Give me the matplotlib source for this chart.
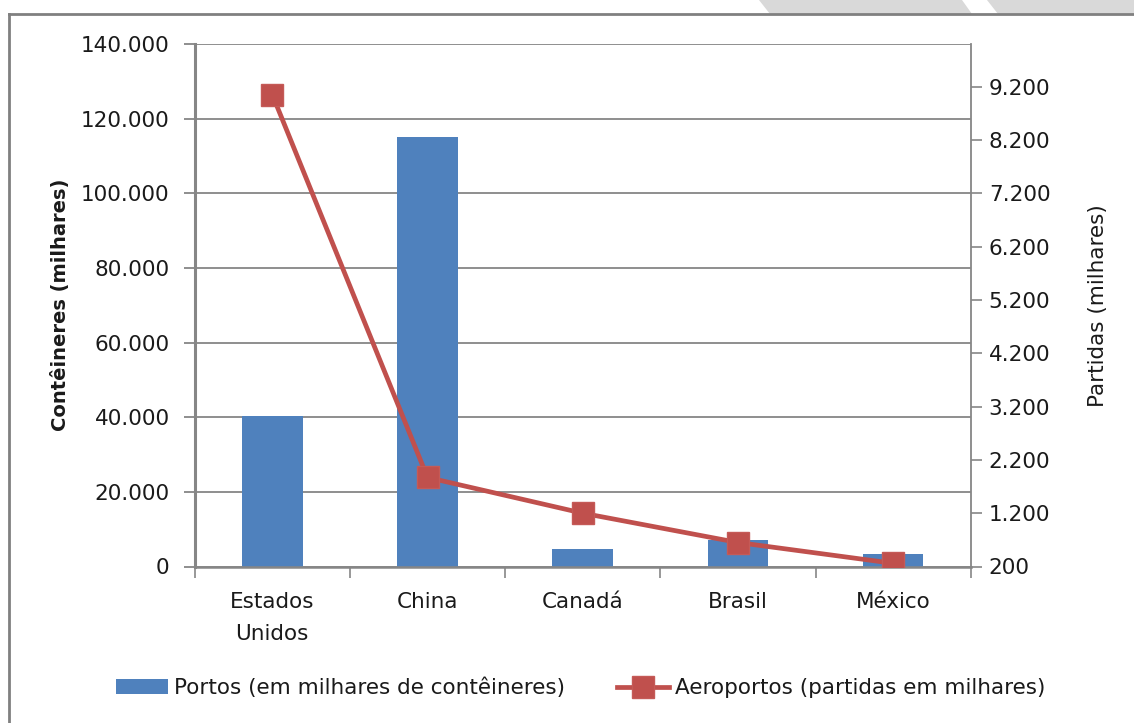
import matplotlib
matplotlib.use("Agg")
import matplotlib.pyplot as plt
from matplotlib.patches import Polygon, Patch
from matplotlib.lines import Line2D
from matplotlib.ticker import FixedLocator, FuncFormatter

plt.rcParams['font.family'] = ['DejaVu Sans']

# Dados
paises = ["Estados\nUnidos", "China", "Canadá", "Brasil", "México"]
portos = [40300, 115100, 4700, 7100, 3300]          # milhares de contêineres
aeroportos = [9050, 1870, 1200, 650, 260]           # partidas em milhares
ticks_esq = [0, 20000, 40000, 60000, 80000, 100000, 120000, 140000]
ticks_dir = [200, 1200, 2200, 3200, 4200, 5200, 6200, 7200, 8200, 9200]

AZUL = "#4F81BD"
VERMELHO = "#C0504D"
CINZA = "#868686"
TEXTO = "#1a1a1a"

W, H = 1134, 723
fig = plt.figure(figsize=(W / 100, H / 100), dpi=100)
fig.patch.set_facecolor("white")


def fx(px):
    return px / W


def fy(py):
    return 1 - py / H


def milhar(v, pos=None):
    return f"{int(v):,}".replace(",", ".")


# moldura e detalhe cinza no canto superior direito
fig.patches.append(Polygon([(fx(759), fy(0)), (fx(962), fy(0)), (fx(972), fy(14)), (fx(770), fy(14))],
                           closed=True, transform=fig.transFigure, facecolor="#d9d9d9",
                           edgecolor="none", zorder=0))
fig.patches.append(Polygon([(fx(987), fy(0)), (fx(W), fy(0)), (fx(W), fy(14)), (fx(998), fy(14))],
                           closed=True, transform=fig.transFigure, facecolor="#d9d9d9",
                           edgecolor="none", zorder=0))
fig.add_artist(Line2D([fx(9), fx(W)], [fy(14), fy(14)], transform=fig.transFigure,
                      color="#808080", lw=2))
fig.add_artist(Line2D([fx(9), fx(9)], [fy(14), fy(H)], transform=fig.transFigure,
                      color="#808080", lw=2))

left, right, top, bottom = 194.7, 970.7, 44, 566.5
ax = fig.add_axes([fx(left), fy(bottom), fx(right - left), (bottom - top) / H])
x = list(range(len(paises)))

ax.bar(x, portos, width=0.39, color=AZUL, zorder=2)
ax.set_xlim(-0.5, len(paises) - 0.5)
ax.set_ylim(0, 140000)
ax.yaxis.set_major_locator(FixedLocator(ticks_esq))
ax.yaxis.set_major_formatter(FuncFormatter(milhar))
ax.grid(axis="y", color=CINZA, lw=1.3, zorder=0)
ax.set_axisbelow(True)

ax.set_xticks(x)
ax.set_xticklabels(paises, fontsize=15.5, color=TEXTO, linespacing=1.75)
ax.xaxis.set_minor_locator(FixedLocator([i - 0.5 for i in range(len(paises) + 1)]))
ax.tick_params(axis="x", which="major", length=0, pad=18)
ax.tick_params(axis="x", which="minor", length=8, width=1.2, color=CINZA, direction="out")
ax.tick_params(axis="y", which="major", length=8, width=1.3, color=CINZA, labelsize=15.5,
               labelcolor=TEXTO, pad=10)

for s in ["top", "right"]:
    ax.spines[s].set_visible(False)
ax.spines["left"].set_color(CINZA)
ax.spines["left"].set_linewidth(2.2)
ax.spines["bottom"].set_color(CINZA)
ax.spines["bottom"].set_linewidth(1.8)

ax.set_ylabel("Contêineres (milhares)", fontsize=14, fontweight="bold", color=TEXTO, labelpad=8)

ax2 = ax.twinx()
ax2.plot(x, aeroportos, color=VERMELHO, lw=3.4, marker="s", markersize=15.5,
         markerfacecolor=VERMELHO, markeredgecolor="#c55a57", zorder=3)
ax2.set_ylim(200, 10000)
ax2.yaxis.set_major_locator(FixedLocator(ticks_dir))
ax2.yaxis.set_major_formatter(FuncFormatter(milhar))
ax2.tick_params(axis="y", length=8, width=1.2, color=CINZA, labelsize=15.5, labelcolor=TEXTO, pad=5)
for s in ["top", "left", "bottom"]:
    ax2.spines[s].set_visible(False)
ax2.spines["right"].set_color(CINZA)
ax2.spines["right"].set_linewidth(1.3)
ax2.set_ylabel("Partidas (milhares)", fontsize=15.5, color=TEXTO, labelpad=27)

handles = [Patch(facecolor=AZUL, edgecolor="none"),
           Line2D([], [], color=VERMELHO, lw=3.4, marker="s", markersize=15.5,
                  markerfacecolor=VERMELHO, markeredgecolor="#c55a57")]
leg = fig.legend(handles, ["Portos (em milhares de contêineres)", "Aeroportos (partidas em milhares)"],
                 loc="center", bbox_to_anchor=(fx(581), fy(688)), ncol=2, frameon=False,
                 fontsize=15.5, handlelength=2.4, handleheight=0.7, handletextpad=0.3,
                 columnspacing=2.4, labelcolor=TEXTO)

fig.savefig("out.png", dpi=100, facecolor="white")
